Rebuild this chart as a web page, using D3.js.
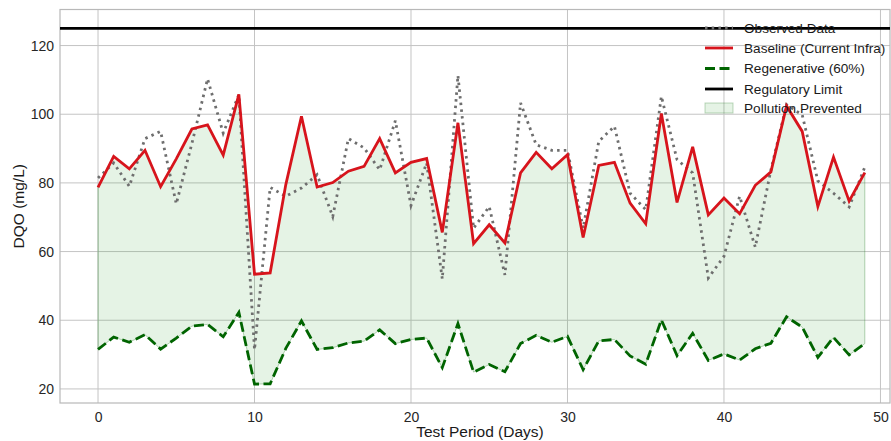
<!DOCTYPE html>
<html>
<head>
<meta charset="utf-8">
<script src="https://cdn.jsdelivr.net/npm/d3@7/dist/d3.min.js"></script>
<style>
  html, body { margin: 0; padding: 0; background: #fff; }
  svg { display: block; font-family: "Liberation Sans", Arial, sans-serif; }
</style>
</head>
<body>
<svg id="chart" width="891" height="441"></svg>
<script>
const days = d3.range(0, 50);
const observed = [81.4, 85.8, 79.0, 92.9, 95.0, 73.9, 91.5, 110.3, 94.5, 105.7,
                  31.4, 78.7, 76.1, 78.5, 82.4, 70.2, 92.9, 90.2, 83.8, 98.1,
                  73.4, 85.8, 52.0, 111.3, 66.8, 73.1, 53.2, 103.3, 91.1, 89.5,
                  89.5, 66.8, 92.1, 96.5, 77.0, 72.2, 105.2, 86.8, 82.9, 52.3,
                  58.6, 76.1, 61.3, 83.8, 102.8, 99.8, 80.6, 77.0, 73.0, 84.6];
const baseline = [78.7, 87.7, 84.1, 89.5, 78.9, 87.0, 95.7, 96.9, 88.1, 105.8,
                  53.4, 53.8, 79.5, 99.4, 78.8, 80.1, 83.4, 84.8, 92.9, 82.9,
                  86.0, 87.1, 65.6, 97.5, 62.3, 67.8, 62.5, 82.9, 88.9, 84.1,
                  88.2, 64.1, 85.1, 86.0, 74.1, 68.1, 100.2, 74.3, 90.5, 70.7,
                  75.6, 71.0, 79.3, 83.2, 102.4, 95.0, 73.1, 87.5, 74.7, 83.0];
const regenerative = [31.5, 35.1, 33.6, 35.8, 31.6, 34.8, 38.3, 38.8, 35.2, 42.3,
                      21.4, 21.5, 31.8, 39.8, 31.5, 32.0, 33.4, 33.9, 37.2, 33.2,
                      34.4, 34.8, 26.2, 39.0, 24.9, 27.1, 25.0, 33.2, 35.6, 33.6,
                      35.3, 25.6, 34.0, 34.4, 29.6, 27.2, 40.1, 29.7, 36.2, 28.3,
                      30.2, 28.4, 31.7, 33.3, 41.0, 38.0, 29.2, 35.0, 29.9, 33.2];
const regulatoryLimit = 125;
const xTicks = [0, 10, 20, 30, 40, 50];
const yTicks = [20, 40, 60, 80, 100, 120];
const legendLabels = ["Observed Data", "Baseline (Current Infra)", "Regenerative (60%)", "Regulatory Limit", "Pollution Prevented"];

const svg = d3.select("#chart");
const L = 60, R = 890, T = 9.5, B = 403;
const x = d3.scaleLinear().domain([-2.43, 50.61]).range([L, R]);
const y = d3.scaleLinear().domain([15.9, 130.5]).range([B, T]);

const gridColor = "#c4c4c4";

// grid
const g = svg.append("g");
g.selectAll(".gx").data(xTicks).enter().append("line")
  .attr("x1", d => x(d)).attr("x2", d => x(d)).attr("y1", T).attr("y2", B)
  .attr("stroke", gridColor).attr("stroke-width", 1);
g.selectAll(".gy").data(yTicks).enter().append("line")
  .attr("x1", L).attr("x2", R).attr("y1", d => y(d)).attr("y2", d => y(d))
  .attr("stroke", gridColor).attr("stroke-width", 1);

// frame
svg.append("rect").attr("x", L).attr("y", T).attr("width", R - L).attr("height", B - T)
  .attr("fill", "none").attr("stroke", "#b8b8b8").attr("stroke-width", 1.2);

// axes (labels only)
const xAxis = d3.axisBottom(x).tickValues(xTicks).tickSize(0).tickPadding(9);
const yAxis = d3.axisLeft(y).tickValues(yTicks).tickSize(0).tickPadding(6);
const gx = svg.append("g").attr("transform", `translate(0,${B})`).call(xAxis);
const gy = svg.append("g").attr("transform", `translate(${L},0)`).call(yAxis);
[gx, gy].forEach(a => {
  a.select(".domain").remove();
  a.selectAll("text").attr("font-size", 14).attr("fill", "#262626")
    .attr("font-family", "'Liberation Sans', Arial, sans-serif");
});

svg.append("text").attr("x", (L + R) / 2 + 5).attr("y", 437)
  .attr("text-anchor", "middle").attr("font-size", 15.5).attr("fill", "#1a1a1a")
  .text("Test Period (Days)");
svg.append("text").attr("transform", `translate(24,${(T + B) / 2}) rotate(-90)`)
  .attr("text-anchor", "middle").attr("font-size", 15.5).attr("fill", "#1a1a1a")
  .text("DQO (mg/L)");

// fill between
const area = d3.area().x((d, i) => x(days[i]))
  .y0((d, i) => y(regenerative[i])).y1((d, i) => y(baseline[i]));
svg.append("path").datum(baseline).attr("d", area)
  .attr("fill", "rgba(44,160,44,0.12)").attr("stroke", "rgba(44,130,44,0.35)").attr("stroke-width", 1);

const line = arr => d3.line().x((d, i) => x(days[i])).y(d => y(d))(arr);

// observed dotted
svg.append("path").attr("d", line(observed)).attr("fill", "none")
  .attr("stroke", "#6e6e6e").attr("stroke-width", 2.8)
  .attr("stroke-dasharray", "2.5,4.2");

// baseline
svg.append("path").attr("d", line(baseline)).attr("fill", "none")
  .attr("stroke", "#d7141c").attr("stroke-width", 2.8).attr("stroke-linejoin", "miter");

// regenerative
svg.append("path").attr("d", line(regenerative)).attr("fill", "none")
  .attr("stroke", "#006400").attr("stroke-width", 2.8)
  .attr("stroke-dasharray", "10,4.5");

// regulatory limit
svg.append("line").attr("x1", L).attr("x2", R)
  .attr("y1", y(regulatoryLimit)).attr("y2", y(regulatoryLimit))
  .attr("stroke", "#000").attr("stroke-width", 2.6);

// legend
const lg = svg.append("g");
const lx = 705, ltx = 744, rows = [28, 48, 68.5, 89, 108];
const handles = [
  {stroke: "#6e6e6e", dash: "2.5,4.2"},
  {stroke: "#d7141c", dash: null},
  {stroke: "#006400", dash: "10,4.5"},
  {stroke: "#000", dash: null},
  null
];
legendLabels.forEach((lab, i) => {
  const h = handles[i];
  if (h) {
    lg.append("line").attr("x1", lx).attr("x2", lx + 28).attr("y1", rows[i]).attr("y2", rows[i])
      .attr("stroke", h.stroke).attr("stroke-width", 2.8)
      .attr("stroke-dasharray", h.dash);
  } else {
    lg.append("rect").attr("x", lx).attr("y", rows[i] - 5).attr("width", 28).attr("height", 10)
      .attr("fill", "rgba(44,160,44,0.12)").attr("stroke", "rgba(44,130,44,0.3)");
  }
  lg.append("text").attr("x", ltx).attr("y", rows[i]).attr("dy", "0.35em")
    .attr("font-size", 13.6).attr("fill", "#1a1a1a").text(lab);
});
</script>
</body>
</html>
